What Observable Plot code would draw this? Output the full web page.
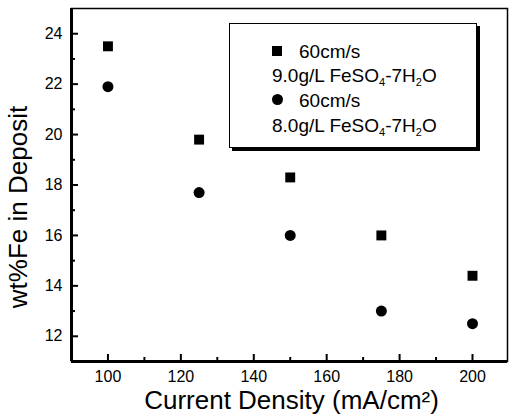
<!DOCTYPE html>
<html>
<head>
<meta charset="utf-8">
<script src="https://cdn.jsdelivr.net/npm/d3@7"></script>
<script src="https://cdn.jsdelivr.net/npm/@observablehq/plot@0.6"></script>
<style>
  html, body { margin: 0; padding: 0; background: #fff; }
  #wrap { position: relative; width: 509px; height: 415px; font-family: "Liberation Sans", Arial, sans-serif; }
  .legend { position: absolute; left: 229px; top: 23px; width: 246px; height: 123px; border: 1.5px solid #000; box-shadow: 3px 3px 0 #000; background: #fff; }
  .lt { position: absolute; font-size: 19px; line-height: 1; transform: translateY(-50%); white-space: nowrap; color: #000; }
  .lt sub { font-size: 11px; vertical-align: -4px; line-height: 0; }
  .sym { position: absolute; background: #000; }
</style>
</head>
<body>
<div id="wrap"></div>
<script>
// Data
const currentDensity = [100, 125, 150, 175, 200];
const fe90 = [23.5, 19.8, 18.3, 16.0, 14.4];   // squares: 60cm/s, 9.0g/L FeSO4-7H2O
const fe80 = [21.9, 17.7, 16.0, 13.0, 12.5];   // circles: 60cm/s, 8.0g/L FeSO4-7H2O
const xDomain = [90, 209.6];
const yDomain = [11, 25];
const xTicks = [100, 120, 140, 160, 180, 200];
const xMinor = [110, 130, 150, 170, 190];
const yTicks = [12, 14, 16, 18, 20, 22, 24];
const yMinor = [13, 15, 17, 19, 21, 23];
const xLabel = "Current Density (mA/cm²)";
const yLabel = "wt%Fe in Deposit";

const sq = currentDensity.map((x, i) => ({x, y: fe90[i]}));
const ci = currentDensity.map((x, i) => ({x, y: fe80[i]}));

const W = 509, H = 415, mL = 71, mR = 2, mT = 8, mB = 54;
const innerW = W - mL - mR, innerH = H - mT - mB;

const chart = Plot.plot({
  width: W, height: H,
  marginLeft: mL, marginRight: mR, marginTop: mT, marginBottom: mB,
  style: {fontFamily: "'Liberation Sans', Arial, sans-serif", background: "#fff", color: "#000"},
  x: {domain: xDomain, ticks: xTicks},
  y: {domain: yDomain, ticks: yTicks},
  marks: [
    Plot.frame({stroke: "#000", strokeWidth: 1.5}),
    Plot.ruleX([xDomain[0]], {stroke: "#000", strokeWidth: 3}),
    Plot.ruleY([yDomain[0]], {stroke: "#000", strokeWidth: 3}),
    Plot.tickX(xTicks, {x: d => d, insetTop: innerH - 7, stroke: "#000", strokeWidth: 2}),
    Plot.tickX(xMinor, {x: d => d, insetTop: innerH - 4, stroke: "#000", strokeWidth: 2}),
    Plot.tickY(yTicks, {y: d => d, insetRight: innerW - 7, stroke: "#000", strokeWidth: 2}),
    Plot.tickY(yMinor, {y: d => d, insetRight: innerW - 4, stroke: "#000", strokeWidth: 2}),
    Plot.axisX(xTicks, {tickSize: 0, tickPadding: 9, fontSize: 16, label: null, fill: "#000"}),
    Plot.axisY(yTicks, {tickSize: 0, tickPadding: 9, fontSize: 16, label: null, fill: "#000"}),
    Plot.dot(sq, {x: "x", y: "y", symbol: "square", r: 5.6, fill: "#000", stroke: null}),
    Plot.dot(ci, {x: "x", y: "y", symbol: "circle", r: 5.5, fill: "#000", stroke: null}),
    Plot.text([xLabel], {text: d => d, frameAnchor: "bottom", textAnchor: "middle", dy: 47, dx: 2, fontSize: 26, lineAnchor: "bottom", fill: "#000"}),
    Plot.text([yLabel], {text: d => d, frameAnchor: "left", textAnchor: "middle", rotate: -90, dx: -45, dy: 22, fontSize: 26, lineAnchor: "bottom", fill: "#000"})
  ]
});
const wrap = document.getElementById("wrap");
wrap.appendChild(chart);

// Legend (HTML overlay)
const legend = document.createElement("div");
legend.className = "legend";
legend.innerHTML = `
  <div class="sym" style="left:42px;top:22px;width:10px;height:10px;"></div>
  <div class="lt" style="left:69px;top:27px;">60cm/s</div>
  <div class="lt" style="left:42px;top:51px;">9.0g/L FeSO<sub>4</sub>-7H<sub>2</sub>O</div>
  <div class="sym" style="left:42px;top:70px;width:11px;height:11px;border-radius:50%;"></div>
  <div class="lt" style="left:69px;top:76px;">60cm/s</div>
  <div class="lt" style="left:42px;top:101px;">8.0g/L FeSO<sub>4</sub>-7H<sub>2</sub>O</div>
`;
wrap.appendChild(legend);
</script>
</body>
</html>
